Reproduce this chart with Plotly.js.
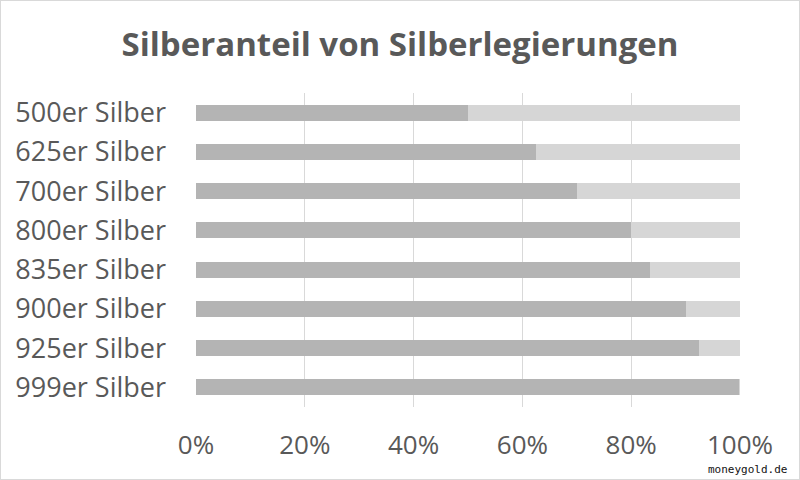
<!DOCTYPE html>
<html>
<head>
<meta charset="utf-8">
<script src="https://cdn.plot.ly/plotly-3.0.1.min.js"></script>
<style>
  body { margin: 0; background: #fff; }
  #chart { width: 800px; height: 480px; box-sizing: border-box; border: 1px solid #d9d9d9; }
</style>
</head>
<body>
<div id="chart"></div>
<script>
// silver alloys, share of pure silver in percent
const alloys = ["500er Silber", "625er Silber", "700er Silber", "800er Silber",
                "835er Silber", "900er Silber", "925er Silber", "999er Silber"];
const silverShare = [50, 62.5, 70, 80, 83.5, 90, 92.5, 99.9];
const restShare = [50, 37.5, 30, 20, 16.5, 10, 7.5, 0.1];
const tickVals = [0, 20, 40, 60, 80, 100];
const tickText = ["0%", "20%", "40%", "60%", "80%", "100%"];

const font = "Open Sans, Noto Sans, sans-serif";

const traces = [
  {
    type: "bar",
    orientation: "h",
    y: alloys,
    x: silverShare,
    marker: { color: "#b4b4b4" },
    hoverinfo: "x+y",
    showlegend: false
  },
  {
    type: "bar",
    orientation: "h",
    y: alloys,
    x: restShare,
    marker: { color: "#d6d6d6" },
    hoverinfo: "x+y",
    showlegend: false
  }
];

const layout = {
  width: 798,
  height: 478,
  barmode: "stack",
  bargap: 0.59,
  margin: { l: 195, r: 59, t: 92, b: 72, pad: 0 },
  paper_bgcolor: "#fff",
  plot_bgcolor: "#fff",
  title: {
    text: "<b>Silberanteil von Silberlegierungen</b>",
    font: { family: font, size: 33, color: "#595959" },
    x: 0.5,
    xanchor: "center",
    y: 0.91,
    yref: "container",
    yanchor: "middle"
  },
  xaxis: {
    range: [0, 100],
    tickvals: tickVals,
    ticktext: tickText,
    showgrid: true,
    gridcolor: "#d9d9d9",
    gridwidth: 1,
    zeroline: false,
    showline: false,
    ticks: "",
    ticklabelstandoff: 20,
    tickfont: { family: font, size: 26, color: "#595959" },
    fixedrange: true
  },
  yaxis: {
    autorange: "reversed",
    showgrid: false,
    zeroline: false,
    showline: false,
    ticks: "",
    ticklabelstandoff: 29,
    tickfont: { family: font, size: 27, color: "#595959" },
    fixedrange: true
  },
  annotations: [
    {
      text: "moneygold.de",
      xref: "paper",
      yref: "paper",
      x: 1.09,
      y: -0.2,
      xanchor: "right",
      yanchor: "middle",
      showarrow: false,
      font: { family: "DejaVu Sans Mono, monospace", size: 11, color: "#111" }
    }
  ]
};

Plotly.newPlot("chart", traces, layout, { displayModeBar: false, staticPlot: true });
</script>
</body>
</html>
